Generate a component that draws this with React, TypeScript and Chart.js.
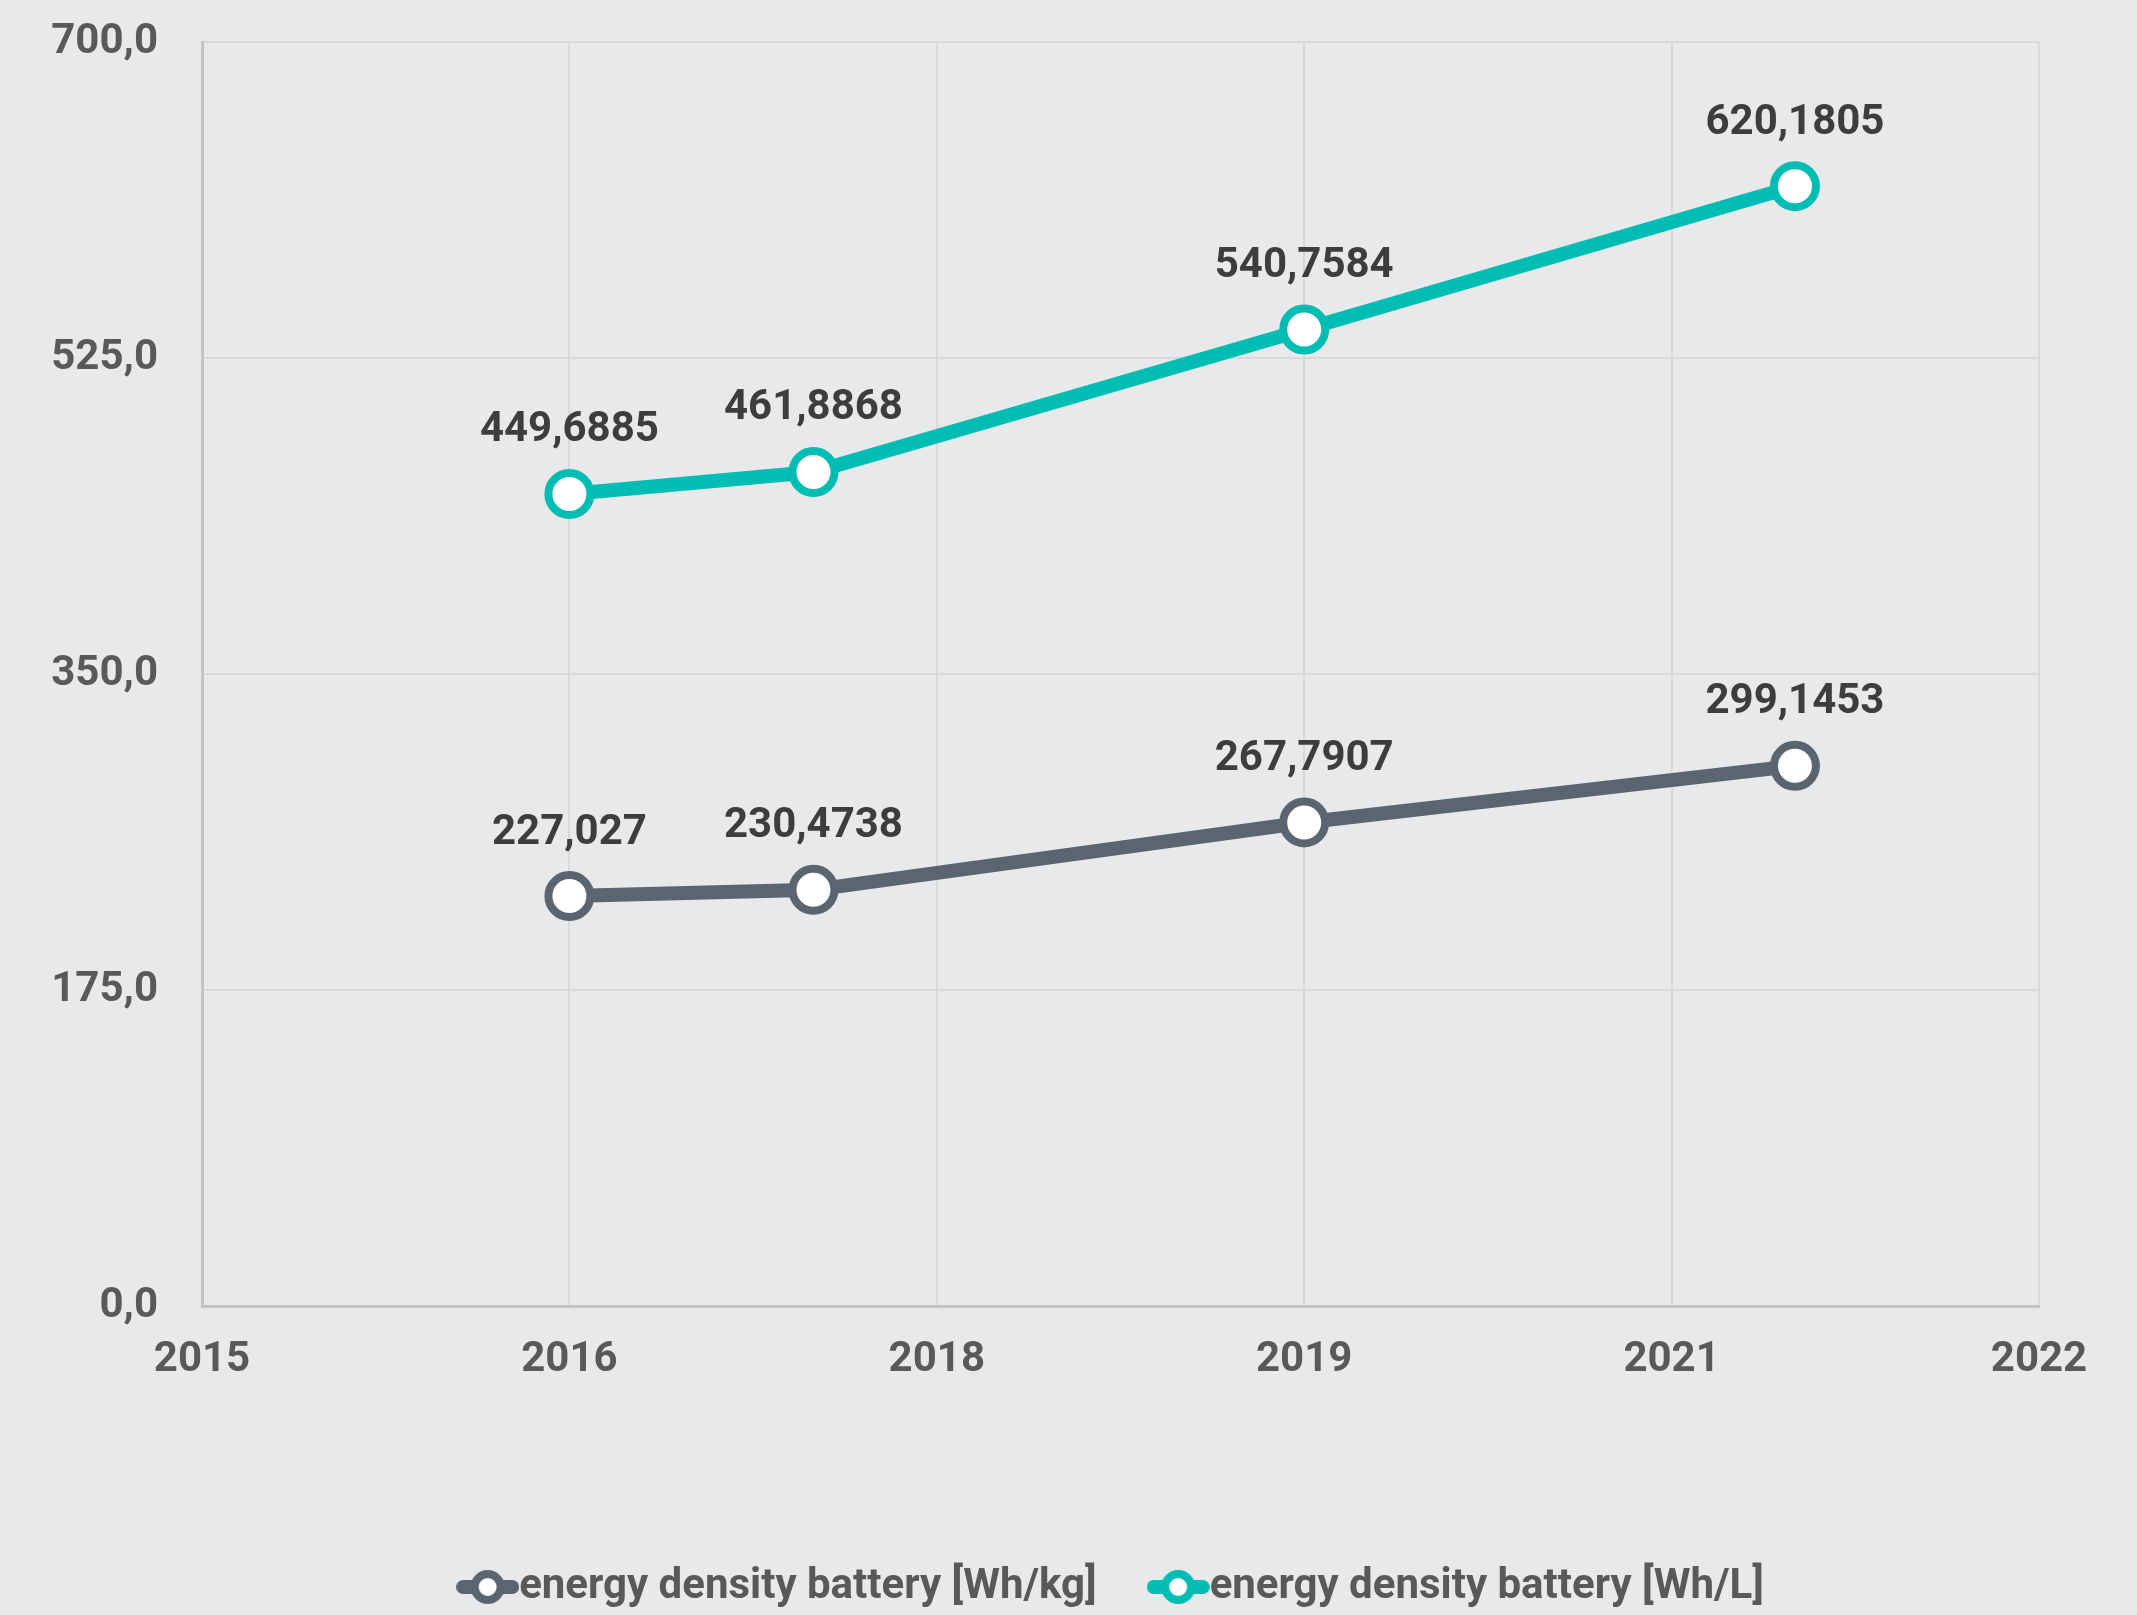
import React, { useEffect, useRef } from 'react';
import { Chart, registerables } from 'chart.js';

Chart.register(...registerables);

const seriesNames = ['energy density battery [Wh/kg]', 'energy density battery [Wh/L]'];
const xValues = [2016.4, 2017.33, 2019.2, 2021.07];
const whPerKg = [227.027, 230.4738, 267.7907, 299.1453];
const whPerL = [449.6885, 461.8868, 540.7584, 620.1805];
const xTickValues = [2015, 2016.4, 2017.8, 2019.2, 2020.6, 2022];
const xTickLabels = ['2015', '2016', '2018', '2019', '2021', '2022'];
const yMin = 0;
const yMax = 700;
const yStep = 175;
const seriesColors = ['#5a656f', '#00bdb4'];

const W = 2137;
const H = 1615;
const FONT = 'Roboto, "Liberation Sans", Arial, sans-serif';

function makeMarker(color: string): HTMLCanvasElement {
  const c = document.createElement('canvas');
  c.width = 63;
  c.height = 40;
  const ctx = c.getContext('2d')!;
  ctx.strokeStyle = color;
  ctx.lineWidth = 14;
  ctx.lineCap = 'round';
  ctx.beginPath();
  ctx.moveTo(7, 20);
  ctx.lineTo(56, 20);
  ctx.stroke();
  ctx.beginPath();
  ctx.arc(31.5, 20, 13, 0, Math.PI * 2);
  ctx.fillStyle = '#ffffff';
  ctx.fill();
  ctx.lineWidth = 8;
  ctx.stroke();
  return c;
}

const fmt = (v: number) => String(v).replace('.', ',');

const dataLabelPlugin = {
  id: 'dataLabels',
  afterDatasetsDraw(chart: any) {
    const ctx = chart.ctx;
    ctx.save();
    ctx.font = `bold 42px ${FONT}`;
    ctx.fillStyle = '#3d3d3d';
    ctx.textAlign = 'center';
    ctx.textBaseline = 'middle';
    chart.data.datasets.forEach((ds: any, di: number) => {
      const meta = chart.getDatasetMeta(di);
      meta.data.forEach((pt: any, i: number) => {
        ctx.fillText(fmt(ds.data[i].y), pt.x, pt.y - 63);
      });
    });
    ctx.restore();
  },
};

export default function App() {
  const ref = useRef<HTMLCanvasElement>(null);

  useEffect(() => {
    if (!ref.current) return;
    const markers = seriesColors.map(makeMarker);
    const series = [whPerKg, whPerL];
    const chart = new Chart(ref.current, {
      type: 'line',
      data: {
        datasets: series.map((vals, si) => ({
          label: seriesNames[si],
          data: vals.map((y, i) => ({ x: xValues[i], y })),
          borderColor: seriesColors[si],
          backgroundColor: '#ffffff',
          borderWidth: 14,
          pointRadius: 21,
          pointHoverRadius: 21,
          pointBorderWidth: 8,
          pointBackgroundColor: '#ffffff',
          pointBorderColor: seriesColors[si],
          tension: 0,
          clip: false as any,
        })),
      },
      options: {
        responsive: false,
        animation: false,
        devicePixelRatio: 1,
        layout: { padding: { top: 42, right: 98, left: 0, bottom: -3 } },
        scales: {
          x: {
            type: 'linear',
            min: 2015,
            max: 2022,
            afterBuildTicks: (scale: any) => {
              scale.ticks = xTickValues.map((value) => ({ value }));
            },
            afterFit: (scale: any) => {
              scale.height = 189;
            },
            ticks: {
              callback: (_v: any, i: number) => xTickLabels[i],
              font: { family: FONT, size: 42, weight: 'bold' },
              color: '#595959',
              padding: 29,
              maxRotation: 0,
              autoSkip: false,
            },
            grid: { color: '#d8d9db', lineWidth: 2, drawTicks: false },
            border: { color: '#c3c4c6', width: 3 },
          },
          y: {
            min: yMin,
            max: yMax,
            ticks: {
              stepSize: yStep,
              callback: (v: any) => Number(v).toFixed(1).replace('.', ','),
              font: { family: FONT, size: 42, weight: 'bold' },
              color: '#595959',
              padding: 0,
            },
            afterFit: (scale: any) => {
              scale.width = 202;
            },
            grid: {
              color: '#d8d9db',
              lineWidth: 2,
              drawTicks: true,
              tickLength: 44,
              tickColor: 'rgba(0,0,0,0)',
            },
            border: { color: '#c3c4c6', width: 3 },
          },
        },
        plugins: {
          legend: {
            position: 'bottom',
            fullSize: false,
            labels: {
              usePointStyle: true,
              pointStyleWidth: 21,
              padding: 71,
              color: '#595959',
              font: { family: FONT, size: 42, weight: 'bold' },
              generateLabels: (c: any) =>
                (Chart.defaults.plugins.legend.labels.generateLabels as any)(c).map((l: any, i: number) => ({
                  ...l,
                  pointStyle: markers[i],
                })),
            },
          },
          tooltip: { enabled: false },
        },
      } as any,
      plugins: [dataLabelPlugin],
    });
    return () => chart.destroy();
  }, []);

  return (
    <div style={{ position: 'fixed', left: 0, top: 0, width: W, height: H, background: '#e8e9eb' }}>
      <canvas ref={ref} width={W} height={H} style={{ display: 'block', width: W, height: H }} />
    </div>
  );
}
